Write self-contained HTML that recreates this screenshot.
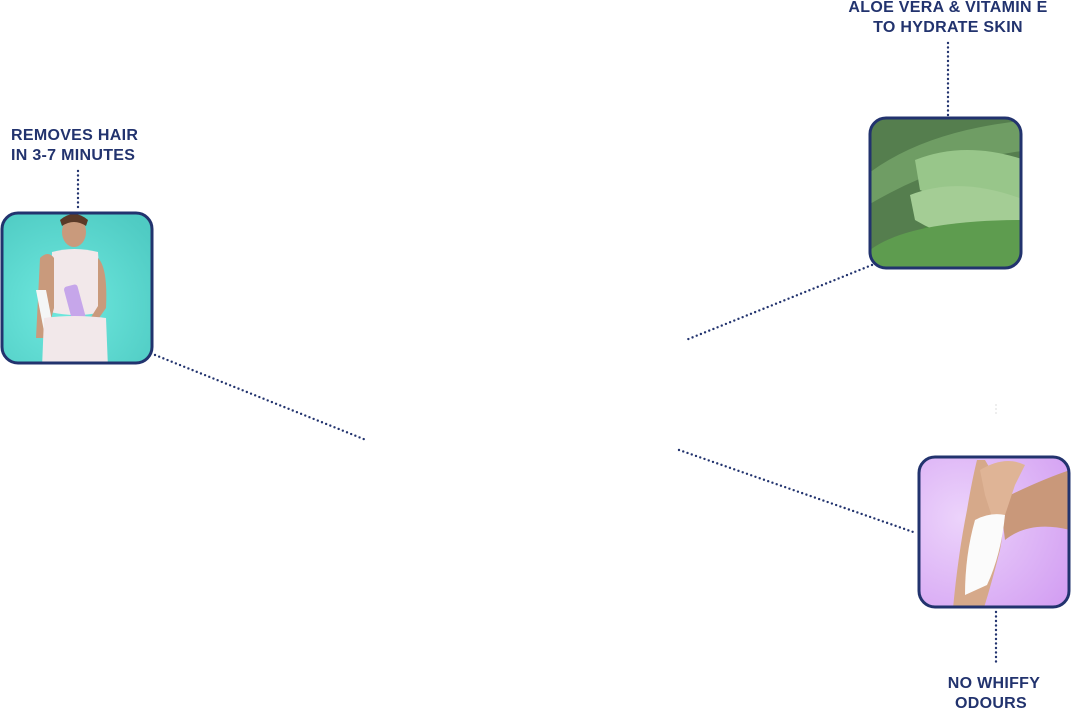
<!DOCTYPE html>
<html><head><meta charset="utf-8"><style>
html,body{margin:0;padding:0;background:#fff;width:1071px;height:708px;overflow:hidden}
svg{display:block}
text{font-family:"Liberation Sans",sans-serif;font-weight:bold;font-size:16px;letter-spacing:0.3px;fill:#22336e}
</style></head><body>
<svg width="1071" height="708" viewBox="0 0 1071 708">
<defs>
<radialGradient id="teal" cx="0.4" cy="0.6" r="0.7"><stop offset="0" stop-color="#6fe9df"/><stop offset="1" stop-color="#4fcbc3"/></radialGradient>
<radialGradient id="lil" cx="0.3" cy="0.4" r="0.8"><stop offset="0" stop-color="#ecd3fb"/><stop offset="1" stop-color="#d29df2"/></radialGradient>
<clipPath id="c1"><rect x="2" y="213" width="150" height="150" rx="16"/></clipPath>
<clipPath id="c2"><rect x="870" y="118" width="151" height="150" rx="16"/></clipPath>
<clipPath id="c3"><rect x="919" y="457" width="150" height="150" rx="16"/></clipPath>
</defs>
<g stroke="#22336e" stroke-width="2.4" stroke-dasharray="0 4.5" stroke-linecap="round" fill="none">
<line x1="78" y1="171" x2="78" y2="211"/>
<line x1="948" y1="43" x2="948" y2="116"/>
<line x1="996" y1="612" x2="996" y2="666"/>
<line x1="155" y1="355" x2="366" y2="440"/>
<line x1="872" y1="265" x2="686" y2="340"/>
<line x1="679" y1="450" x2="916" y2="533"/>
</g>
<line x1="996" y1="404" x2="996" y2="416" stroke="#ddd" stroke-width="1" stroke-dasharray="2 2"/>
<g clip-path="url(#c1)">
<rect x="0" y="210" width="160" height="160" fill="url(#teal)"/>
<ellipse cx="74" cy="232" rx="12" ry="15" fill="#c99a7c"/>
<path d="M60 220 q14 -12 28 0 l-2 6 q-12 -8 -24 0z" fill="#5a3a28"/>
<path d="M52 252 q22 -6 46 0 l4 60 q-25 6 -52 0z" fill="#f2e8ea"/>
<path d="M40 258 q8 -8 14 0 l0 50 l-8 30 -10 0z" fill="#c99a7c"/>
<path d="M36 290 l10 0 l12 62 -10 0z" fill="#f4f6f6"/>
<rect x="68" y="285" width="14" height="38" rx="3" fill="#c6a6ea" transform="rotate(-15 75 304)"/>
<path d="M98 258 q10 10 8 50 l-14 20 -4 -6 10 -16z" fill="#c99a7c"/>
<path d="M44 318 q30 -4 62 0 l2 50 -66 0z" fill="#f2e8ea"/>
</g>
<rect x="2" y="213" width="150" height="150" rx="16" fill="none" stroke="#22336e" stroke-width="3"/>
<g clip-path="url(#c2)">
<rect x="860" y="110" width="170" height="170" fill="#557e4e"/>
<path d="M860 180 q60 -50 170 -60 l0 30 q-90 10 -170 60z" fill="#6f9d64"/>
<path d="M880 270 q40 -60 150 -80 l0 90z" fill="#4e8c42"/>
<path d="M915 160 q50 -20 110 0 l0 40 q-60 10 -105 -10z" fill="#98c68a"/>
<path d="M910 195 q50 -20 115 5 l0 40 q-60 10 -110 -20z" fill="#a4cd95"/>
<path d="M870 250 q40 -30 155 -30 l0 50 -155 0z" fill="#5e9c4f"/>
</g>
<rect x="870" y="118" width="151" height="150" rx="16" fill="none" stroke="#22336e" stroke-width="3"/>
<g clip-path="url(#c3)">
<rect x="910" y="450" width="170" height="170" fill="url(#lil)"/>
<path d="M985 460 q25 40 15 90 q-10 40 -20 70 l-28 0 q5 -60 15 -110 q5 -30 10 -50z" fill="#d6a98a"/>
<path d="M1000 500 q40 -20 70 -30 l0 60 q-40 -10 -65 10z" fill="#c9987a"/>
<path d="M980 470 q25 -15 45 -5 l-10 20 -10 30 -12 5 -8 -25z" fill="#dfb496"/>
<path d="M975 520 q15 -8 30 -5 q-4 40 -18 70 l-22 10 q0 -40 10 -75z" fill="#fbfbfb"/>
</g>
<rect x="919" y="457" width="150" height="150" rx="16" fill="none" stroke="#22336e" stroke-width="3"/>
<text x="11" y="140">REMOVES HAIR</text>
<text x="11" y="160">IN 3-7 MINUTES</text>
<text x="948" y="12" text-anchor="middle">ALOE VERA &amp; VITAMIN E</text>
<text x="948" y="32" text-anchor="middle">TO HYDRATE SKIN</text>
<text x="994" y="688" text-anchor="middle">NO WHIFFY</text>
<text x="991" y="708" text-anchor="middle">ODOURS</text>
</svg>
</body></html>
